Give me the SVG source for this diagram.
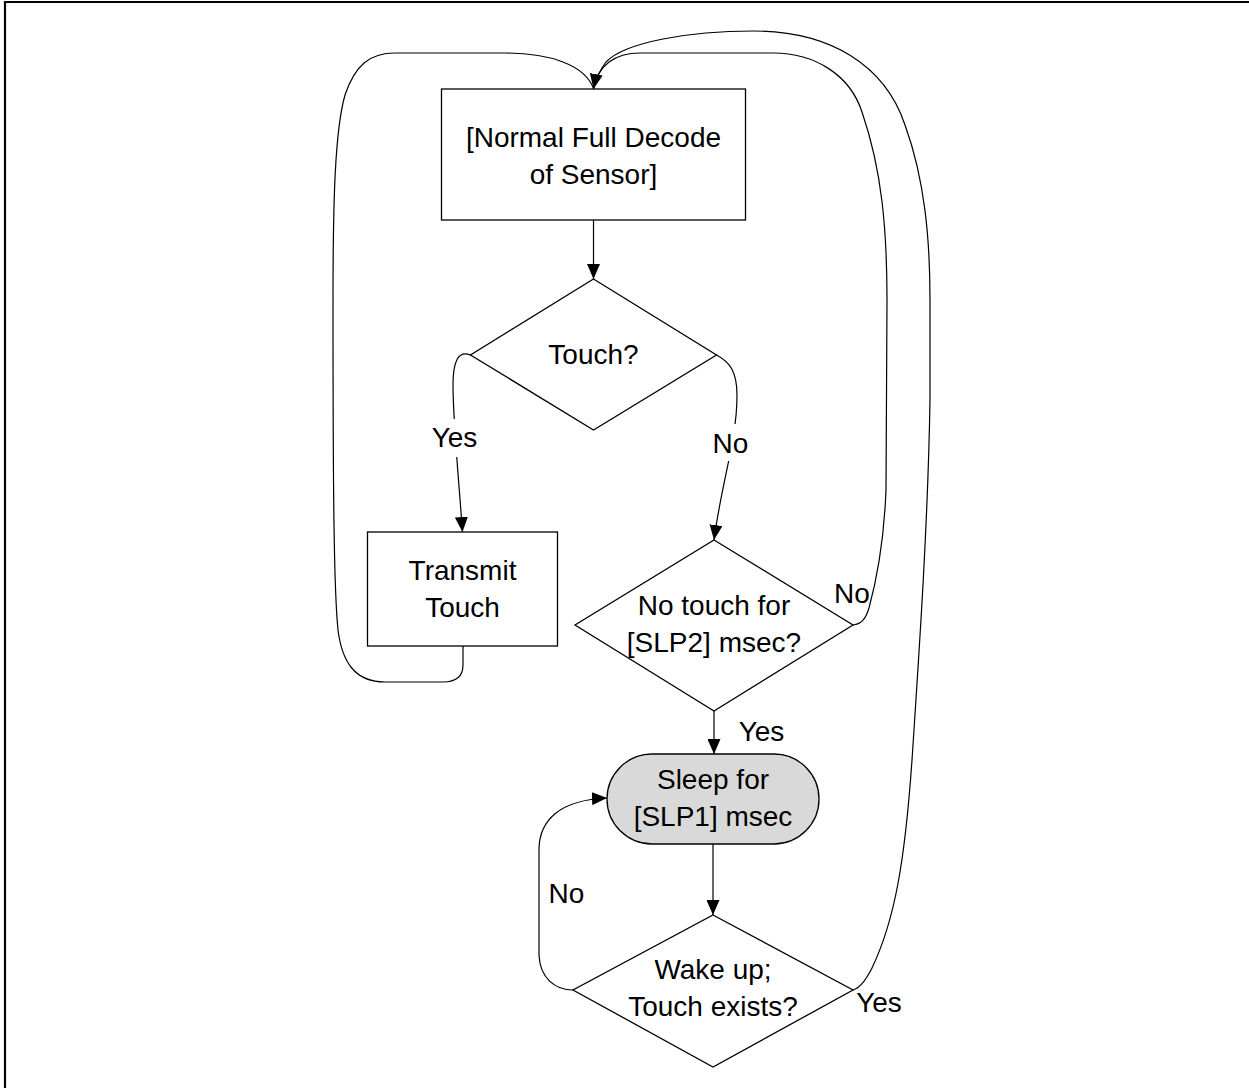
<svg xmlns="http://www.w3.org/2000/svg" width="1249" height="1088" viewBox="0 0 1249 1088">
<style>
.shape{fill:#fff;stroke:#000;stroke-width:1.3}
.term{fill:#d9d9d9;stroke:#000;stroke-width:1.3}
.conn{fill:none;stroke:#000;stroke-width:1.2}
.txt{font-family:"Liberation Sans",Arial,sans-serif;font-size:28px;fill:#000;text-anchor:middle}
.mask{fill:#fff;stroke:none}
</style>
<defs>
<marker id="arr" viewBox="0 0 15 13" refX="15" refY="6.5" markerWidth="15" markerHeight="13" markerUnits="userSpaceOnUse" orient="auto">
<path d="M0,0 L15,6.5 L0,13 z" fill="#000"/>
</marker>
</defs>
<rect width="1249" height="1088" fill="#fff"/>
<g id="frame" fill="none" stroke="#000" stroke-width="2.2">
<path d="M5,1088 L5,2 L1249,2"/>
</g>
<g id="connectors">
<path class="conn" d="M593.5,220 L593.5,279" marker-end="url(#arr)"/>
<path class="conn" d="M470.5,355 C458,350 453,362 453,385 C453,420 458,470 462.5,532" marker-end="url(#arr)"/>
<path class="conn" d="M716.5,355 C730,362 737,372 737,395 C737,440 722,480 714,540" marker-end="url(#arr)"/>
<path class="conn" d="M714,711 L714,754" marker-end="url(#arr)"/>
<path class="conn" d="M713,844 L713,915" marker-end="url(#arr)"/>
<path class="conn" d="M573,990 C555,990 540,978 539,955 L539,850 C539,820 560,800 607,798" marker-end="url(#arr)"/>
<path class="conn" d="M463,646 L463,665 C463,677 456,682 443,682 L385,682 C355,682 342,662 338,630 C334,590 333,500 333,300 C333,200 335,130 345,95 C355,65 370,53 395,53 L505,53 C550,53 585,65 593.5,88.5"/>
<path class="conn" d="M853,990 C860,988 866,980 872,968 C895,920 905,860 912,760 C920,640 928,520 930,400 L930,300 C930,240 925,180 905,125 C885,65 830,31 753,31 C690,31 625,42 606,62 C600,70 596,78 593.5,88.5"/>
<path class="conn" d="M853,625 C862,624 866,618 869,608 C878,575 884,540 886,490 L887,300 C887,230 882,170 862,112 C850,75 815,53 773,53 L640,53 C615,53 598,65 593.5,89" marker-end="url(#arr)"/>
</g>
<g id="n-decode">
<rect class="shape" x="441.5" y="89" width="304" height="131"/>
<text class="txt" x="593.5" y="147">[Normal Full Decode</text>
<text class="txt" x="593.5" y="184">of Sensor]</text>
</g>
<g id="n-touch">
<polygon class="shape" points="593.5,279 716.5,355 593.5,430 470.5,355"/>
<text class="txt" x="593.5" y="364">Touch?</text>
</g>
<g id="n-transmit">
<rect class="shape" x="367.5" y="532" width="190" height="114"/>
<text class="txt" x="462.5" y="580">Transmit</text>
<text class="txt" x="462.5" y="617">Touch</text>
</g>
<g id="n-notouch">
<polygon class="shape" points="714,540 853,625 714,711 575,625"/>
<text class="txt" x="714" y="615">No touch for</text>
<text class="txt" x="714" y="652">[SLP2] msec?</text>
</g>
<g id="n-sleep">
<rect class="term" x="607" y="754" width="212" height="90" rx="45" ry="45"/>
<text class="txt" x="713" y="789">Sleep for</text>
<text class="txt" x="713" y="826">[SLP1] msec</text>
</g>
<g id="n-wake">
<polygon class="shape" points="713,915 853,990 713,1067 573,990"/>
<text class="txt" x="713" y="979">Wake up;</text>
<text class="txt" x="713" y="1016">Touch exists?</text>
</g>
<g id="labels">
<rect class="mask" x="430" y="419" width="50" height="38"/>
<text class="txt" x="454.5" y="447">Yes</text>
<rect class="mask" x="709" y="424" width="44" height="37"/>
<text class="txt" x="730.5" y="453">No</text>
<text class="txt" x="852" y="603">No</text>
<text class="txt" x="761.5" y="741">Yes</text>
<text class="txt" x="566.5" y="903">No</text>
<text class="txt" x="879" y="1012">Yes</text>
</g>
</svg>
